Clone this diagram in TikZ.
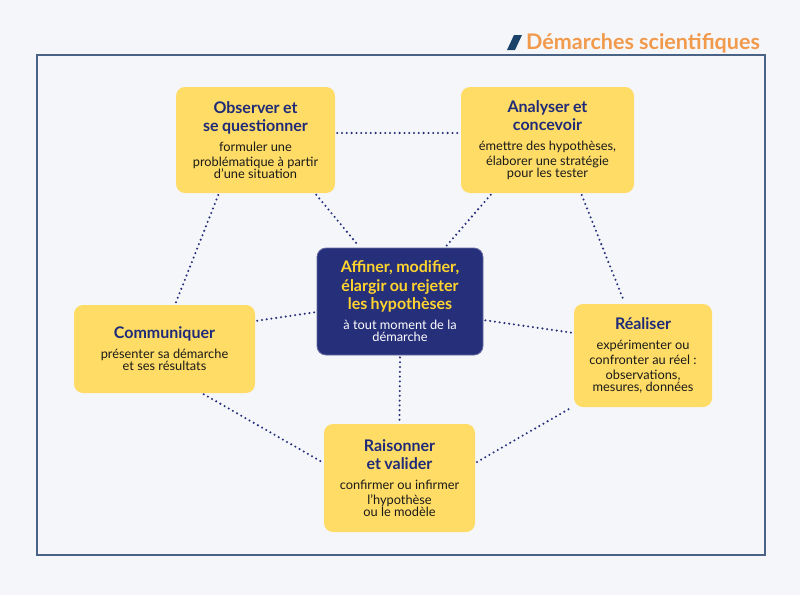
\documentclass[tikz,border=0pt]{standalone}
\usepackage{fontspec}
\setmainfont{Lato}
\definecolor{bgc}{HTML}{F5F6FA}
\definecolor{framec}{HTML}{4A6283}
\definecolor{yel}{HTML}{FFDC66}
\definecolor{navy}{HTML}{262F7A}
\definecolor{ttl}{HTML}{1F2B78}
\definecolor{orng}{HTML}{F29A4C}
\definecolor{slashc}{HTML}{1B4369}
\definecolor{ctrt}{HTML}{FFD42E}
\definecolor{bodyc}{HTML}{1A1A1A}
\newcommand{\mytf}{\fontsize{16}{18.5}\selectfont\bfseries}
\newcommand{\mybd}{\par\vspace{5pt}\fontsize{12.8}{15}\selectfont\mdseries\color{bodyc}}
\newcommand{\mybw}{\par\vspace{5pt}\fontsize{12.8}{15}\selectfont\mdseries\color{white}}
\tikzset{
  ybox/.style={fill=yel, rounded corners=9pt, align=center, inner sep=0pt, text=ttl},
  cbox/.style={fill=navy, draw=navy!70!white, line width=0.8pt, rounded corners=9pt, align=center, inner sep=0pt, text=ctrt},
  dotl/.style={draw=navy, line width=2.3pt, line cap=round, dash pattern=on 0pt off 4.8pt, shorten <=2pt, shorten >=2pt}
}
\begin{document}
\begin{tikzpicture}[x=1pt,y=-1pt]
\fill[bgc] (0,0) rectangle (800,595);
\useasboundingbox (0,0) rectangle (800,595);
\draw[framec, line width=1.2pt] (37,55) rectangle (765,555);
\fill[slashc] (507,50) -- (514,35) -- (522,35) -- (515,50) -- cycle;
\node[anchor=west, inner sep=0pt, text=orng, font=\fontsize{21.5}{24}\selectfont\bfseries] (title) at (526,43) {Démarches scientifiques};

\node[ybox, minimum width=159pt, minimum height=106pt, text width=155pt] (obs) at (255.5,140)
 {\mytf Observer et\\se questionner\mybd formuler une\\problématique à partir\\d’une situation};
\node[ybox, minimum width=173pt, minimum height=106pt, text width=168pt] (ana) at (547.5,140)
 {\mytf Analyser et\\concevoir\mybd émettre des hypothèses,\\élaborer une stratégie\\pour les tester};
\node[cbox, minimum width=166pt, minimum height=107pt, text width=162pt] (ctr) at (400,301.5)
 {\mytf Affiner, modifier,\\élargir ou rejeter\\les hypothèses\mybw à tout moment de la\\démarche};
\node[ybox, minimum width=181pt, minimum height=88pt, text width=175pt] (com) at (164.5,349)
 {\mytf Communiquer\mybd présenter sa démarche\\et ses résultats};
\node[ybox, minimum width=138pt, minimum height=103pt, text width=134pt] (rea) at (643,355.5)
 {\mytf Réaliser\mybd expérimenter ou\\confronter au réel :\\observations,\\mesures, données};
\node[ybox, minimum width=151pt, minimum height=108pt, text width=148pt] (rai) at (399.5,478)
 {\mytf Raisonner\\et valider\mybd confirmer ou infirmer\\l’hypothèse\\ou le modèle};

\draw[dotl] ([yshift=7pt]obs.east) -- ([yshift=7pt]ana.west);
\draw[dotl] ([xshift=59.5pt]obs.south) -- ([xshift=-40pt]ctr.north);
\draw[dotl] ([xshift=-55.5pt]ana.south) -- ([xshift=45pt]ctr.north);
\draw[dotl] ([xshift=-36.5pt]obs.south) -- ([xshift=10.5pt]com.north);
\draw[dotl] ([xshift=33.5pt]ana.south) -- ([xshift=-18pt]rea.north);
\draw[dotl] ([yshift=28pt]com.east) -- ([yshift=-10.5pt]ctr.west);
\draw[dotl] ([yshift=-18.5pt]ctr.east) -- ([yshift=22.5pt]rea.west);
\draw[dotl] (ctr.south) -- (rai.north);
\draw[dotl] ([xshift=37.5pt]com.south) -- ([yshift=15pt]rai.west);
\draw[dotl] ([yshift=15pt]rai.east) -- ([xshift=-71pt]rea.south);
\end{tikzpicture}
\end{document}
